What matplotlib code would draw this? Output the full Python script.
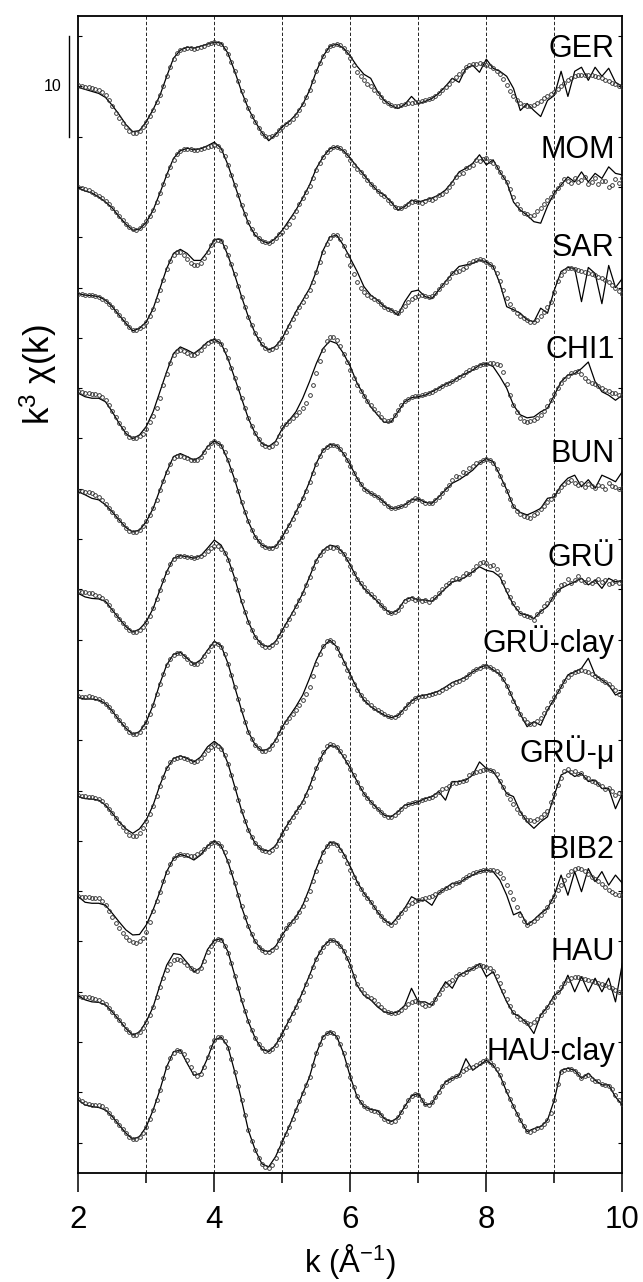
import matplotlib.pyplot as plt
import numpy as np

plt.rcParams['font.family'] = ['Liberation Sans', 'DejaVu Sans']
plt.rcParams['mathtext.fontset'] = 'custom'
plt.rcParams['mathtext.rm'] = 'Liberation Sans'
plt.rcParams['mathtext.it'] = 'Liberation Sans'

# k grids: fit curve every 0.1, measured points every 0.05
k_fit = np.linspace(2, 10, 81)
k_dat = np.linspace(2, 10, 161)

names = ['GER', 'MOM', 'SAR', 'CHI1', 'BUN', 'GRÜ', 'GRÜ-clay', 'GRÜ-μ',
         'BIB2', 'HAU', 'HAU-clay']
offsets = [100, 90, 80, 70, 60, 50, 40, 30, 20, 10, 0]

ger_fit = [4.9, 4.7, 4.5, 4.3, 3.9, 3.1, 2.2, 1.2, 0.5, 0.6,
           1.5, 2.7, 4.1, 6.0, 7.8, 8.6, 8.9, 8.8, 9.0, 9.2,
           9.4, 9.3, 8.3, 6.5, 4.5, 2.8, 1.5, 0.4, -0.4, 0.2,
           1.0, 1.5, 2.2, 3.2, 4.6, 6.5, 8.0, 9.0, 9.2, 8.8,
           8.0, 7.0, 6.2, 5.8, 4.5, 3.6, 3.1, 2.8, 3.2, 4.0,
           3.3, 3.5, 3.8, 4.3, 5.0, 5.8, 5.4, 6.8, 7.1, 6.4,
           7.7, 6.8, 6.5, 6.0, 4.8, 2.6, 3.3, 2.6, 2.0, 3.6,
           4.1, 6.5, 4.0, 6.5, 6.9, 5.6, 6.9, 6.0, 6.8, 5.4,
           5.0]
ger_dat = [5.1, 5.0, 4.95, 4.9, 4.8, 4.7, 4.6, 4.4, 4.1, 3.6,
           3.0, 2.4, 1.9, 1.4, 1.0, 0.6, 0.4, 0.4, 0.6, 1.0,
           1.5, 2.1, 2.7, 3.4, 4.1, 5.0, 6.0, 6.9, 7.7, 8.3,
           8.6, 8.75, 8.8, 8.8, 8.75, 8.8, 8.9, 9.05, 9.2, 9.3,
           9.4, 9.35, 9.2, 8.8, 8.2, 7.4, 6.5, 5.5, 4.5, 3.6,
           2.8, 2.1, 1.5, 0.9, 0.4, 0.1, 0.0, 0.1, 0.3, 0.7,
           1.0, 1.3, 1.5, 1.8, 2.2, 2.7, 3.2, 3.9, 4.6, 5.5,
           6.5, 7.3, 8.0, 8.6, 9.0, 9.15, 9.2, 9.1, 8.8, 8.4,
           7.8, 7.1, 6.4, 6.0, 5.6, 5.2, 5.0, 4.6, 4.3, 3.9,
           3.5, 3.3, 3.1, 3.0, 3.0, 3.1, 3.2, 3.3, 3.3, 3.4,
           3.4, 3.5, 3.6, 3.7, 3.8, 4.0, 4.3, 4.6, 4.9, 5.2,
           5.6, 5.9, 6.2, 6.5, 6.9, 7.1, 7.2, 7.25, 7.3, 7.2,
           7.1, 7.0, 6.8, 6.5, 6.2, 5.7, 5.1, 4.5, 4.0, 3.6,
           3.3, 3.1, 3.0, 3.0, 3.1, 3.3, 3.5, 3.8, 4.0, 4.2,
           4.4, 4.7, 5.0, 5.3, 5.6, 5.8, 6.0, 6.1, 6.1, 6.1,
           6.1, 6.1, 6.0, 5.9, 5.8, 5.6, 5.5, 5.3, 5.2, 5.0,
           4.9]

mom_fit = [4.9, 4.6, 4.4, 4.0, 3.5, 2.9, 2.05, 1.3, 0.7, 0.8,
           1.5, 2.7, 4.4, 6.2, 7.85, 8.6, 8.85, 8.7, 8.8, 9.1,
           9.45, 8.85, 7.2, 5.2, 3.2, 1.4, 0.2, -0.35, -0.6, -0.1,
           0.7, 1.7, 2.7, 3.9, 5.2, 6.85, 8.0, 8.8, 9.0, 8.6,
           7.85, 7.0, 6.2, 5.35, 4.6, 4.2, 3.5, 2.7, 3.05, 3.7,
           3.5, 3.7, 3.9, 4.2, 4.7, 5.5, 6.5, 6.85, 7.35, 8.2,
           7.2, 7.7, 6.5, 5.5, 3.5, 2.7, 2.2, 1.55, 1.4, 3.1,
           4.4, 5.2, 6.0, 5.5, 6.5, 5.5, 6.35, 5.85, 7.0, 6.35,
           6.2]
mom_dat = [5.0, 4.9, 4.8, 4.7, 4.5, 4.3, 4.1, 3.9, 3.6, 3.3,
           2.9, 2.5, 2.1, 1.7, 1.3, 1.0, 0.8, 0.75, 0.9, 1.2,
           1.6, 2.1, 2.7, 3.5, 4.4, 5.3, 6.2, 7.0, 7.7, 8.3,
           8.6, 8.75, 8.8, 8.75, 8.7, 8.7, 8.75, 8.85, 9.0, 9.1,
           9.2, 9.05, 8.7, 8.1, 7.2, 6.2, 5.2, 4.2, 3.2, 2.3,
           1.5, 0.8, 0.3, -0.1, -0.35, -0.5, -0.55, -0.4, -0.1, 0.3,
           0.5, 1.0, 1.3, 2.0, 2.6, 3.3, 3.9, 4.5, 5.1, 5.9,
           6.7, 7.4, 8.0, 8.5, 8.8, 9.0, 9.0, 8.9, 8.6, 8.2,
           7.7, 7.2, 6.8, 6.5, 6.1, 5.7, 5.3, 5.0, 4.6, 4.3,
           4.1, 3.7, 3.4, 3.0, 2.9, 2.9, 3.1, 3.3, 3.5, 3.6,
           3.5, 3.4, 3.6, 3.8, 3.7, 3.9, 4.2, 4.3, 4.6, 5.0,
           5.4, 6.0, 6.3, 6.4, 6.9, 7.0, 7.2, 7.7, 7.6, 7.8,
           7.9, 7.6, 7.4, 7.0, 6.5, 6.0, 5.5, 4.8, 4.0, 3.3,
           2.8, 2.4, 2.3, 2.1, 2.2, 2.6, 2.9, 3.3, 3.7, 4.0,
           4.5, 4.9, 5.3, 5.8, 5.6, 5.4, 5.9, 5.5, 5.7, 6.0,
           5.3, 5.5, 5.9, 5.3, 5.6, 5.6, 5.0, 5.2, 5.8, 5.4,
           5.9]

sar_fit = [4.4, 4.25, 4.2, 4.1, 3.75, 3.1, 2.25, 1.45, 0.7, 0.95,
           1.6, 2.9, 4.9, 6.9, 8.4, 8.8, 8.4, 7.7, 7.7, 8.55,
           9.8, 9.8, 8.2, 6.25, 4.1, 2.1, 0.45, -0.7, -1.2, -0.85,
           0.0, 1.3, 2.6, 3.75, 4.9, 6.6, 8.7, 10.05, 10.2, 9.2,
           7.9, 6.6, 5.1, 4.25, 3.75, 3.1, 2.8, 2.25, 3.6, 4.6,
           4.75, 4.1, 3.9, 4.75, 5.6, 6.4, 7.1, 7.25, 7.4, 7.75,
           7.55, 7.1, 5.4, 3.1, 2.8, 2.45, 1.8, 1.6, 2.95, 2.45,
           4.75, 6.6, 7.0, 6.9, 3.6, 7.0, 6.4, 3.4, 7.2, 5.0,
           5.9]
sar_dat = [4.4, 4.35, 4.3, 4.3, 4.25, 4.2, 4.1, 3.9, 3.7, 3.4,
           3.1, 2.7, 2.3, 1.9, 1.5, 1.1, 0.8, 0.75, 0.95, 1.2,
           1.6, 2.2, 2.9, 3.8, 4.8, 5.8, 6.8, 7.6, 8.2, 8.5,
           8.5, 8.2, 7.8, 7.4, 7.2, 7.2, 7.4, 7.9, 8.5, 9.2,
           9.6, 9.7, 9.6, 9.0, 8.2, 7.3, 6.3, 5.2, 4.1, 3.1,
           2.1, 1.3, 0.5, -0.1, -0.6, -1.0, -1.2, -1.1, -0.9, -0.5,
           0.0, 0.6, 1.2, 1.9, 2.5, 3.1, 3.6, 4.2, 4.8, 5.6,
           6.5, 7.5, 8.5, 9.3, 9.9, 10.2, 10.2, 9.8, 9.1, 8.2,
           7.2, 6.3, 5.6, 5.0, 4.6, 4.3, 4.1, 3.9, 3.7, 3.4,
           3.1, 2.9, 2.8, 2.6, 2.5, 2.8, 3.2, 3.6, 3.9, 4.1,
           4.2, 4.3, 4.2, 4.1, 4.2, 4.5, 4.9, 5.3, 5.6, 6.0,
           6.4, 6.5, 6.6, 6.8, 7.0, 7.4, 7.6, 7.7, 7.8, 7.7,
           7.5, 7.3, 7.0, 6.4, 5.7, 4.8, 4.0, 3.4, 2.9, 2.5,
           2.2, 2.0, 1.8, 1.6, 1.6, 1.8, 2.2, 2.6, 3.1, 3.6,
           4.6, 5.7, 6.2, 6.6, 6.9, 6.9, 6.8, 6.7, 6.6, 6.5,
           6.4, 6.3, 6.2, 6.1, 6.0, 5.8, 5.6, 5.3, 5.0, 4.7,
           4.4]

chi_fit = [4.5, 4.15, 4.0, 4.0, 3.65, 2.65, 1.5, 0.5, 0.0, 0.35,
           1.2, 2.65, 4.65, 6.65, 8.45, 9.1, 8.8, 8.45, 8.95, 9.6,
           9.85, 9.45, 7.95, 6.0, 4.0, 2.0, 0.5, -0.5, -0.8, -0.3,
           1.0, 1.8, 2.65, 4.0, 5.65, 7.45, 8.95, 9.7, 9.45, 8.45,
           7.15, 5.5, 4.3, 3.15, 2.35, 1.6, 1.65, 2.65, 3.65, 4.05,
           4.15, 4.3, 4.65, 5.0, 5.4, 5.65, 6.15, 6.45, 6.8, 7.3,
           7.45, 7.15, 6.15, 5.0, 3.3, 2.35, 2.05, 2.15, 2.65, 3.0,
           4.3, 5.65, 6.3, 6.45, 6.95, 7.6, 5.65, 4.65, 4.3, 3.8,
           4.3]
chi_dat = [4.7, 4.6, 4.5, 4.5, 4.45, 4.4, 4.3, 4.1, 3.8, 3.3,
           2.7, 2.1, 1.5, 1.0, 0.5, 0.15, 0.0, 0.05, 0.2, 0.4,
           0.9, 1.6, 2.2, 3.0, 4.0, 5.3, 6.4, 7.5, 8.3, 8.7,
           8.8, 8.7, 8.5, 8.3, 8.3, 8.5, 8.8, 9.2, 9.5, 9.7,
           9.8, 9.7, 9.4, 8.8, 8.0, 7.0, 6.0, 5.0, 4.0, 3.0,
           2.0, 1.2, 0.5, -0.1, -0.5, -0.7, -0.8, -0.7, -0.4, 0.2,
           1.1, 1.4, 1.7, 2.0, 2.3, 2.6, 3.0, 3.5, 4.3, 5.3,
           6.5, 7.7, 8.8, 9.7, 10.1, 10.1, 9.8, 9.2, 8.4, 7.6,
           6.8, 6.0, 5.3, 4.7, 4.2, 3.7, 3.3, 2.9, 2.5, 2.1,
           1.8, 1.7, 1.8, 2.3, 2.8, 3.3, 3.7, 3.9, 4.1, 4.2,
           4.2, 4.3, 4.4, 4.5, 4.6, 4.8, 5.0, 5.2, 5.4, 5.5,
           5.7, 5.9, 6.1, 6.3, 6.6, 6.8, 7.0, 7.1, 7.3, 7.4,
           7.4, 7.5, 7.5, 7.4, 7.3, 6.6, 5.4, 4.3, 3.3, 2.6,
           2.0, 1.7, 1.6, 1.7, 1.8, 2.0, 2.3, 2.7, 3.2, 3.8,
           4.4, 5.0, 5.5, 5.9, 6.2, 6.5, 6.6, 6.7, 6.4, 6.0,
           5.7, 5.5, 5.4, 5.2, 5.0, 4.8, 4.7, 4.5, 4.5, 4.3,
           4.2]

bun_fit = [4.7, 4.4, 4.05, 3.9, 3.4, 2.7, 1.9, 1.15, 0.7, 0.9,
           1.75, 3.05, 4.9, 6.7, 8.2, 8.5, 8.2, 7.85, 8.2, 9.2,
           9.75, 9.35, 7.85, 5.9, 3.7, 1.75, 0.25, -0.6, -0.9, -0.75,
           0.25, 1.4, 2.7, 4.05, 5.7, 7.55, 8.85, 9.4, 9.3, 8.5,
           7.35, 6.05, 5.05, 4.55, 4.2, 3.65, 3.05, 3.1, 3.4, 3.9,
           4.0, 3.65, 3.55, 4.2, 4.9, 5.55, 5.9, 6.35, 6.85, 7.55,
           8.0, 7.7, 6.35, 4.9, 3.2, 2.65, 2.4, 2.7, 3.05, 4.05,
           4.2, 5.35, 6.05, 6.35, 5.2, 5.9, 5.05, 6.35, 6.05, 5.7,
           6.7]
bun_dat = [4.8, 4.75, 4.7, 4.65, 4.55, 4.4, 4.2, 3.9, 3.5, 3.1,
           2.7, 2.3, 1.9, 1.5, 1.15, 0.85, 0.7, 0.7, 0.9, 1.3,
           1.75, 2.4, 3.05, 3.9, 4.9, 5.8, 6.7, 7.5, 8.1, 8.3,
           8.3, 8.2, 8.1, 7.9, 7.85, 7.9, 8.2, 8.7, 9.2, 9.6,
           9.7, 9.6, 9.3, 8.7, 7.9, 6.9, 5.9, 4.8, 3.7, 2.7,
           1.75, 0.9, 0.25, -0.2, -0.6, -0.8, -0.9, -0.9, -0.7, -0.3,
           0.25, 0.8, 1.4, 2.0, 2.7, 3.4, 4.05, 4.8, 5.7, 6.6,
           7.5, 8.3, 8.85, 9.2, 9.4, 9.4, 9.3, 9.0, 8.5, 7.9,
           7.3, 6.6, 6.0, 5.5, 5.0, 4.8, 4.6, 4.4, 4.2, 3.9,
           3.6, 3.3, 3.1, 3.1, 3.2, 3.3, 3.4, 3.7, 3.9, 4.1,
           4.0, 3.8, 3.6, 3.6, 3.6, 3.9, 4.2, 4.6, 5.0, 5.4,
           5.9, 6.3, 6.2, 6.7, 6.6, 7.1, 7.3, 7.6, 7.7, 7.9,
           8.0, 7.9, 7.6, 7.0, 6.3, 5.5, 4.8, 4.0, 3.3, 2.8,
           2.5, 2.3, 2.2, 2.1, 2.4, 2.6, 3.0, 3.3, 3.7, 4.0,
           4.4, 4.8, 5.2, 5.5, 5.7, 5.9, 5.6, 5.4, 5.6, 5.2,
           5.5, 5.3, 5.1, 5.4, 5.3, 5.0, 5.6, 5.3, 5.2, 5.0,
           5.1]

gru_fit = [4.6, 4.25, 4.1, 4.05, 3.8, 2.95, 2.1, 1.3, 0.75, 1.05,
           1.8, 3.1, 4.95, 6.75, 8.1, 8.35, 8.25, 8.1, 8.35, 9.1,
           9.9, 9.4, 8.1, 6.1, 3.8, 1.8, 0.3, -0.5, -0.7, -0.2,
           0.95, 2.1, 3.3, 4.6, 6.25, 7.9, 8.9, 9.4, 9.25, 8.6,
           7.4, 6.1, 5.1, 4.45, 3.8, 3.1, 2.6, 2.95, 3.95, 4.2,
           3.95, 3.95, 3.8, 4.45, 5.1, 5.75, 5.9, 6.25, 6.75, 7.25,
           6.9, 6.75, 6.25, 4.75, 3.45, 2.6, 2.45, 2.1, 2.8, 3.3,
           4.45, 5.1, 5.45, 5.75, 6.1, 5.45, 5.9, 5.1, 6.1, 5.75,
           5.9]
gru_dat = [4.8, 4.75, 4.7, 4.65, 4.6, 4.45, 4.3, 4.1, 3.8, 3.4,
           3.0, 2.5, 2.1, 1.7, 1.3, 1.0, 0.8, 0.8, 1.0, 1.3,
           1.8, 2.4, 3.1, 4.0, 4.95, 5.9, 6.75, 7.5, 8.0, 8.3,
           8.35, 8.3, 8.25, 8.2, 8.1, 8.2, 8.3, 8.5, 8.8, 9.1,
           9.35, 9.3, 9.0, 8.6, 7.9, 7.0, 6.0, 4.9, 3.8, 2.8,
           1.8, 1.0, 0.3, -0.2, -0.5, -0.7, -0.7, -0.5, -0.2, 0.4,
           0.95, 1.5, 2.1, 2.7, 3.3, 3.9, 4.6, 5.4, 6.2, 7.1,
           7.8, 8.4, 8.8, 9.1, 9.2, 9.1, 9.2, 8.8, 8.5, 8.0,
           7.3, 6.6, 6.0, 5.6, 5.2, 4.8, 4.5, 4.2, 3.8, 3.4,
           3.1, 2.8, 2.7, 2.8, 3.0, 3.3, 3.8, 4.0, 4.1, 3.9,
           4.0, 3.8, 3.9, 3.7, 4.0, 4.2, 4.6, 5.0, 5.4, 5.6,
           5.9, 6.1, 6.0, 6.3, 6.6, 6.5, 6.9, 7.3, 7.6, 7.7,
           7.6, 7.3, 7.4, 7.0, 6.4, 5.7, 4.9, 4.2, 3.6, 3.1,
           2.7, 2.5, 2.4, 2.3, 2.0, 2.6, 2.9, 3.3, 3.6, 4.0,
           4.5, 4.9, 5.4, 5.5, 6.0, 5.6, 5.9, 6.3, 5.9, 5.7,
           6.0, 5.6, 5.8, 6.0, 5.7, 5.9, 5.5, 5.6, 5.8, 5.6,
           5.8]

gruc_fit = [4.25, 4.1, 4.1, 4.0, 3.65, 2.9, 2.0, 1.2, 0.6, 0.85,
            1.85, 3.5, 5.65, 7.5, 8.55, 8.75, 8.15, 7.55, 8.0, 8.95,
            9.85, 9.4, 7.65, 5.3, 3.0, 0.85, -0.45, -1.05, -0.85, 0.0,
            1.35, 2.35, 3.35, 4.5, 6.15, 7.95, 9.3, 9.95, 9.3, 7.95,
            6.5, 5.15, 4.0, 3.35, 2.9, 2.5, 2.25, 2.45, 3.2, 3.9,
            4.35, 4.5, 4.65, 4.9, 5.3, 5.75, 6.0, 6.3, 6.8, 7.2,
            7.5, 7.0, 6.55, 5.5, 4.0, 2.6, 1.35, 1.85, 1.5, 3.0,
            4.15, 5.3, 6.5, 6.8, 7.15, 8.15, 6.5, 6.0, 5.5, 4.5,
            4.8]
gruc_dat = [4.4, 4.35, 4.35, 4.4, 4.35, 4.25, 4.1, 3.9, 3.65, 3.3,
            2.9, 2.45, 2.0, 1.6, 1.2, 0.85, 0.6, 0.6, 0.85, 1.3,
            1.85, 2.6, 3.5, 4.6, 5.6, 6.6, 7.5, 8.1, 8.5, 8.7,
            8.7, 8.4, 8.1, 7.7, 7.55, 7.6, 7.9, 8.4, 8.9, 9.4,
            9.7, 9.6, 9.3, 8.6, 7.6, 6.5, 5.3, 4.1, 3.0, 1.8,
            0.85, 0.1, -0.45, -0.8, -1.05, -1.1, -0.9, -0.5, 0.0, 0.7,
            1.3, 1.8, 2.2, 2.6, 3.0, 3.5, 4.0, 4.6, 5.3, 6.4,
            7.6, 8.6, 9.4, 9.9, 10.0, 9.8, 9.2, 8.5, 7.7, 7.0,
            6.3, 5.6, 5.0, 4.5, 4.1, 3.8, 3.5, 3.2, 3.0, 2.8,
            2.6, 2.4, 2.3, 2.3, 2.5, 2.8, 3.2, 3.6, 3.9, 4.2,
            4.3, 4.4, 4.4, 4.5, 4.6, 4.7, 4.8, 5.0, 5.2, 5.4,
            5.6, 5.8, 5.9, 6.1, 6.3, 6.6, 6.9, 7.1, 7.2, 7.35,
            7.4, 7.3, 7.1, 6.9, 6.6, 6.1, 5.4, 4.7, 3.9, 3.2,
            2.6, 2.1, 1.8, 1.6, 1.6, 1.9, 2.2, 2.7, 3.2, 3.8,
            4.3, 4.9, 5.4, 5.9, 6.3, 6.6, 6.8, 6.9, 7.0, 6.9,
            6.8, 6.6, 6.4, 6.2, 6.0, 5.8, 5.6, 5.3, 5.0, 4.6,
            4.4]

grum_fit = [4.4, 4.2, 4.15, 4.05, 3.55, 2.75, 1.9, 1.2, 0.75, 1.2,
            2.1, 3.55, 5.55, 7.2, 8.2, 8.45, 8.2, 7.85, 8.35, 9.35,
            9.9, 9.35, 7.7, 5.4, 3.05, 1.1, -0.25, -0.9, -1.0, -0.5,
            0.75, 1.9, 2.9, 3.9, 5.4, 7.2, 8.7, 9.5, 9.35, 8.35,
            7.2, 5.9, 4.7, 3.9, 3.2, 2.55, 2.4, 2.9, 3.55, 3.7,
            3.9, 4.2, 4.4, 4.9, 4.05, 5.9, 5.9, 6.05, 6.55, 7.85,
            7.2, 6.9, 5.9, 4.7, 4.4, 2.9, 1.9, 1.25, 1.9, 2.4,
            4.55, 6.55, 6.9, 6.4, 6.7, 5.9, 6.05, 5.2, 5.2, 3.2,
            4.7]
grum_dat = [4.6, 4.5, 4.45, 4.4, 4.4, 4.3, 4.15, 3.95, 3.6, 3.2,
            2.75, 2.3, 1.8, 1.35, 0.95, 0.6, 0.45, 0.5, 0.8, 1.3,
            2.0, 2.7, 3.5, 4.5, 5.5, 6.4, 7.2, 7.8, 8.1, 8.25,
            8.3, 8.25, 8.15, 7.95, 7.85, 7.9, 8.2, 8.6, 9.0, 9.3,
            9.5, 9.45, 9.1, 8.5, 7.6, 6.5, 5.3, 4.1, 3.0, 2.0,
            1.1, 0.4, -0.2, -0.6, -0.9, -1.05, -1.1, -0.9, -0.5, 0.1,
            0.7, 1.3, 1.9, 2.4, 2.9, 3.4, 3.9, 4.6, 5.4, 6.3,
            7.2, 8.1, 8.8, 9.4, 9.6, 9.5, 9.3, 8.9, 8.4, 7.8,
            7.1, 6.5, 5.9, 5.3, 4.7, 4.3, 3.9, 3.5, 3.2, 2.9,
            2.6, 2.4, 2.4, 2.6, 2.9, 3.2, 3.5, 3.7, 3.8, 3.9,
            3.9, 4.1, 4.2, 4.3, 4.4, 4.6, 4.9, 5.2, 5.3, 5.5,
            5.8, 5.8, 5.9, 6.0, 6.1, 6.5, 6.7, 6.8, 6.9, 7.0,
            7.1, 7.0, 6.9, 6.6, 6.0, 5.4, 4.7, 4.2, 3.7, 3.2,
            2.8, 2.4, 2.1, 2.1, 2.0, 2.2, 2.4, 2.7, 3.0, 3.9,
            4.7, 5.6, 6.3, 6.9, 7.1, 6.8, 6.9, 6.6, 6.7, 6.4,
            6.3, 6.0, 5.9, 5.7, 5.5, 5.2, 5.3, 5.0, 4.6, 4.8,
            4.9]

bib_fit = [4.45, 3.9, 3.8, 3.8, 3.6, 2.8, 1.95, 1.15, 0.65, 0.7,
           1.65, 3.15, 4.95, 6.95, 8.25, 8.65, 8.45, 8.1, 8.6, 9.5,
           10.0, 9.5, 7.95, 5.8, 3.45, 1.5, 0.0, -0.85, -1.0, -0.5,
           0.65, 1.65, 2.45, 3.6, 5.3, 7.25, 8.9, 9.85, 9.75, 8.75,
           7.45, 5.95, 4.8, 3.95, 2.95, 2.15, 1.7, 2.45, 3.3, 4.45,
           4.1, 4.1, 3.6, 4.8, 5.3, 5.8, 5.8, 6.3, 6.6, 6.95,
           7.1, 6.95, 6.1, 4.6, 2.65, 2.95, 1.65, 2.15, 2.8, 3.3,
           4.6, 6.6, 4.6, 6.95, 4.95, 7.25, 5.95, 6.95, 5.6, 6.6,
           5.8]
bib_dat = [4.5, 4.4, 4.4, 4.4, 4.35, 4.35, 4.3, 4.0, 3.6, 3.0,
           2.4, 1.8, 1.3, 0.8, 0.4, 0.1, -0.05, -0.1, 0.0, 0.3,
           0.9, 1.9, 3.0, 4.0, 4.95, 6.0, 6.9, 7.7, 8.3, 8.6,
           8.7, 8.6, 8.55, 8.5, 8.5, 8.7, 8.9, 9.2, 9.5, 9.8,
           9.9, 9.8, 9.5, 8.9, 8.0, 6.9, 5.8, 4.6, 3.5, 2.4,
           1.5, 0.7, 0.0, -0.5, -0.85, -1.0, -1.0, -0.8, -0.5, 0.1,
           0.6, 1.3, 1.7, 2.0, 2.4, 2.9, 3.5, 4.2, 5.0, 6.0,
           7.0, 8.0, 8.9, 9.5, 9.8, 9.8, 9.6, 9.1, 8.5, 7.8,
           7.1, 6.4, 5.8, 5.2, 4.7, 4.3, 3.9, 3.4, 2.9, 2.5,
           2.1, 1.8, 1.6, 1.9, 2.4, 2.8, 3.2, 3.6, 3.8, 4.0,
           4.1, 4.2, 4.3, 4.4, 4.5, 4.7, 4.9, 5.1, 5.3, 5.4,
           5.6, 5.8, 5.9, 6.2, 6.4, 6.6, 6.8, 6.9, 7.0, 7.1,
           7.1, 7.1, 7.1, 7.0, 6.8, 6.3, 5.6, 4.9, 4.2, 3.4,
           2.6, 2.0, 1.6, 1.8, 2.0, 2.3, 2.6, 3.0, 3.4, 4.0,
           4.5, 5.1, 5.6, 6.1, 6.6, 7.0, 7.2, 7.3, 7.2, 7.0,
           6.7, 6.4, 6.2, 6.0, 5.7, 5.4, 5.1, 4.9, 4.7, 4.6,
           4.5]

hau_fit = [4.6, 4.2, 4.0, 3.95, 3.7, 3.0, 2.2, 1.35, 0.7, 1.0,
           2.05, 3.5, 5.65, 7.65, 8.8, 8.7, 7.9, 7.0, 7.4, 9.2,
           10.1, 10.3, 9.0, 6.65, 4.2, 2.05, 0.4, -0.7, -0.95, -0.3,
           0.85, 2.2, 3.5, 5.0, 6.65, 8.3, 9.5, 10.15, 10.0, 9.15,
           7.65, 5.65, 4.65, 4.2, 3.5, 3.0, 2.85, 3.0, 3.65, 5.35,
           4.0, 4.0, 3.65, 4.85, 6.0, 5.35, 6.65, 7.0, 7.3, 7.8,
           6.5, 7.0, 5.5, 4.0, 2.85, 2.5, 1.85, 0.85, 2.7, 3.5,
           4.65, 5.15, 6.65, 5.0, 6.5, 5.0, 6.35, 5.0, 6.35, 4.0,
           7.8]
hau_dat = [4.6, 4.5, 4.5, 4.45, 4.4, 4.3, 4.2, 4.0, 3.75, 3.4,
           3.0, 2.6, 2.2, 1.8, 1.35, 1.0, 0.75, 0.75, 1.0, 1.4,
           2.0, 2.7, 3.5, 4.5, 5.5, 6.4, 7.2, 7.8, 8.2, 8.3,
           8.2, 8.0, 7.7, 7.4, 7.2, 7.1, 7.4, 8.1, 9.0, 9.6,
           10.0, 10.2, 10.1, 9.6, 8.9, 7.9, 6.6, 5.4, 4.2, 3.1,
           2.1, 1.2, 0.4, -0.2, -0.6, -0.85, -0.9, -0.7, -0.3, 0.3,
           0.85, 1.5, 2.2, 2.9, 3.5, 4.2, 5.0, 5.8, 6.6, 7.5,
           8.3, 9.0, 9.5, 9.9, 10.1, 10.1, 9.9, 9.6, 9.1, 8.4,
           7.6, 6.6, 5.8, 5.3, 4.9, 4.6, 4.4, 4.2, 3.8, 3.5,
           3.2, 3.0, 2.9, 2.9, 3.0, 3.2, 3.5, 3.8, 4.0, 4.1,
           4.0, 3.8, 3.6, 3.7, 3.9, 4.3, 4.8, 5.3, 5.7, 6.0,
           6.2, 6.6, 6.8, 6.8, 7.0, 7.3, 7.4, 7.6, 7.7, 7.6,
           7.5, 7.4, 7.1, 6.6, 5.9, 5.1, 4.3, 3.6, 3.0, 2.6,
           2.3, 2.1, 1.9, 1.8, 2.0, 2.3, 2.7, 3.1, 3.5, 4.0,
           4.5, 5.0, 5.5, 5.9, 6.2, 6.4, 6.5, 6.5, 6.4, 6.3,
           6.2, 6.1, 6.0, 5.9, 5.8, 5.7, 5.5, 5.4, 5.2, 5.0,
           4.9]

hauc_fit = [4.25, 3.75, 3.6, 3.5, 3.25, 2.6, 1.75, 0.95, 0.35, 0.6,
            1.6, 3.25, 5.25, 7.55, 9.05, 9.2, 7.9, 6.7, 6.9, 8.4,
            10.2, 10.5, 9.55, 7.05, 4.25, 1.25, -0.7, -2.1, -2.4, -1.4,
            0.1, 1.6, 3.25, 4.9, 6.55, 8.9, 10.55, 11.05, 10.55, 8.9,
            6.55, 4.55, 3.6, 3.3, 3.2, 2.4, 2.1, 2.5, 3.6, 4.65,
            4.9, 3.75, 3.9, 5.05, 6.05, 6.4, 6.7, 8.35, 7.2, 7.7,
            8.2, 7.7, 6.7, 5.05, 3.6, 2.25, 1.1, 1.4, 1.6, 2.25,
            4.25, 7.2, 7.4, 7.2, 6.4, 6.9, 6.2, 5.75, 5.75, 4.55,
            3.75]
hauc_dat = [4.3, 4.1, 3.9, 3.8, 3.75, 3.75, 3.7, 3.6, 3.35, 3.0,
            2.6, 2.15, 1.75, 1.35, 0.95, 0.6, 0.35, 0.35, 0.6, 1.0,
            1.6, 2.4, 3.25, 4.2, 5.25, 6.4, 7.5, 8.4, 8.9, 9.2,
            9.1, 8.8, 8.2, 7.5, 6.9, 6.6, 6.8, 7.5, 8.5, 9.5,
            10.2, 10.5, 10.5, 10.1, 9.4, 8.3, 7.0, 5.6, 4.2, 2.8,
            1.3, 0.2, -0.7, -1.5, -2.1, -2.4, -2.5, -2.2, -1.5, -0.7,
            0.1, 0.9, 1.6, 2.4, 3.25, 4.1, 4.9, 5.7, 6.55, 7.7,
            8.9, 9.8, 10.5, 10.9, 11.0, 10.9, 10.5, 9.8, 8.9, 7.7,
            6.5, 5.5, 4.6, 4.0, 3.6, 3.4, 3.3, 3.2, 3.1, 2.8,
            2.4, 2.2, 2.1, 2.2, 2.6, 3.1, 3.6, 4.2, 4.6, 4.8,
            4.7, 4.2, 3.8, 3.7, 4.0, 4.5, 5.0, 5.6, 6.0, 6.2,
            6.4, 6.6, 6.7, 7.1, 7.3, 7.5, 7.5, 7.7, 7.9, 8.1,
            8.2, 8.0, 7.7, 7.3, 6.7, 5.9, 5.1, 4.3, 3.6, 2.9,
            2.3, 1.7, 1.2, 1.1, 1.3, 1.5, 1.6, 1.9, 2.3, 3.0,
            4.2, 5.8, 7.0, 7.2, 7.3, 7.3, 7.1, 6.8, 6.4, 6.6,
            6.7, 6.3, 6.1, 6.1, 5.8, 5.7, 5.6, 5.3, 4.7, 4.2,
            3.8]

fits = [ger_fit, mom_fit, sar_fit, chi_fit, bun_fit, gru_fit, gruc_fit,
        grum_fit, bib_fit, hau_fit, hauc_fit]
dats = [ger_dat, mom_dat, sar_dat, chi_dat, bun_dat, gru_dat, gruc_dat,
        grum_dat, bib_dat, hau_dat, hauc_dat]
# height of each sample name above its own baseline
label_y = [9.0, 8.9, 9.2, 9.0, 8.7, 8.4, 9.8, 8.9, 9.3, 9.25, 9.3]

fig = plt.figure(figsize=(6.43, 12.82), dpi=100)
ax = fig.add_axes([0.1218, 0.0848, 0.8460, 0.9030])

for xg in range(3, 10):
    ax.axvline(xg, color='k', lw=0.6, ls=(0, (4, 2.5)), zorder=1)

for name, f, d, off, ly in zip(names, fits, dats, offsets, label_y):
    ax.plot(k_fit, np.array(f) + off, color='k', lw=0.9, zorder=3)
    ax.plot(k_dat, np.array(d) + off, 'o', ms=2.7, mfc='none',
            mec='#333333', mew=0.65, zorder=4)
    ax.text(9.89, off + ly - 1.05, name, ha='right', va='baseline',
            fontsize=22, zorder=5)

ax.set_xlim(2, 10)
ax.set_ylim(-3.04, 112.03)
ax.set_xticks([2, 4, 6, 8, 10])
ax.set_xticks([3, 5, 7, 9], minor=True)
ax.tick_params(axis='x', which='major', direction='out', length=14,
               width=1.1, labelsize=22.5, pad=9)
ax.tick_params(axis='x', which='minor', direction='out', length=7, width=1.1)
ax.set_yticks(np.arange(0, 111, 5))
ax.tick_params(axis='y', direction='in', left=True, right=True,
               labelleft=False, length=3, width=0.8)
for s in ax.spines.values():
    s.set_linewidth(1.3)

ax.set_xlabel('k (Å$^{-1}$)', fontsize=22.5, labelpad=5)
fig.text(0.060, 0.7075, 'k$^{3}$ χ(k)', rotation=90, fontsize=25,
         ha='center', va='center')

# scale bar for 10 units of k^3 chi(k)
ax.plot([1.868, 1.868], [100, 110], color='k', lw=1.0, clip_on=False)
ax.text(1.615, 105, '10', ha='center', va='center', fontsize=11.5)

fig.savefig('out.png', dpi=100)
